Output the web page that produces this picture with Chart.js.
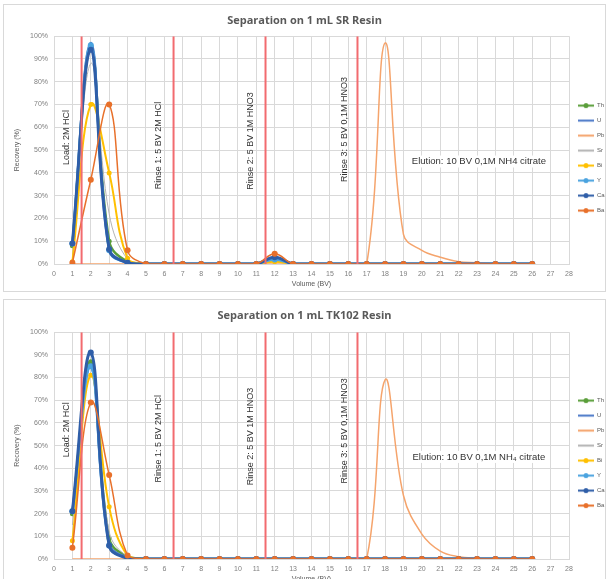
<!DOCTYPE html>
<html>
<head>
<meta charset="utf-8">
<script src="https://cdn.jsdelivr.net/npm/chart.js@4.4.0/dist/chart.umd.min.js"></script>
<style>
  body { margin: 0; background: #fff; width: 610px; height: 579px; overflow: hidden; position: relative; }
  .box { position: absolute; left: 3px; width: 601px; height: 286px; border: 1px solid #d9d9d9; background: #fff; }
  #boxSR { top: 4px; }
  #boxTK { top: 299px; }
  canvas { display: block; }
</style>
</head>
<body>
<div class="box" id="boxSR"><canvas id="chartSR" width="601" height="286"></canvas></div>
<div class="box" id="boxTK"><canvas id="chartTK" width="601" height="286"></canvas></div>
<script>
// volume fractions (BV)
const volumes = [1, 2, 3, 4, 5, 6, 7, 8, 9, 10, 11, 12, 13, 14, 15, 16, 17, 18, 19, 20, 21, 22, 23, 24, 25, 26];
const elements = ['Th', 'U', 'Pb', 'Sr', 'Bi', 'Y', 'Ca', 'Ba'];

// recovery (%) on SR resin
const srTh = [8, 95, 10, 1, 0, 0, 0, 0, 0, 0, 0, 2.5, 0, 0, 0, 0, 0, 0, 0, 0, 0, 0, 0, 0, 0, 0];
const srU  = [8, 97, 7, 0.5, 0, 0, 0, 0, 0, 0, 0, 3, 0, 0, 0, 0, 0, 0, 0, 0, 0, 0, 0, 0, 0, 0];
const srPb = [0, 0, 0, 0, 0, 0, 0, 0, 0, 0, 0, 0, 0, 0, 0, 0, 0, 97, 13, 6, 3, 1, 0.5, 0, 0, 0];
const srSr = [3, 88, 22, 2, 0, 0, 0, 0, 0, 0, 0, 1.5, 0, 0, 0, 0, 0, 0, 0, 0, 0, 0, 0, 0, 0, 0];
const srBi = [1, 70, 40, 2.5, 0, 0, 0, 0, 0, 0, 0, 1, 0, 0, 0, 0, 0, 0, 0, 0, 0, 0, 0, 0, 0, 0];
const srY  = [9, 96, 6, 0.5, 0, 0, 0, 0, 0, 0, 0, 2, 0, 0, 0, 0, 0, 0, 0, 0, 0, 0, 0, 0, 0, 0];
const srCa = [9, 94, 6.5, 0.5, 0, 0, 0, 0, 0, 0, 0, 3, 0, 0, 0, 0, 0, 0, 0, 0, 0, 0, 0, 0, 0, 0];
const srBa = [0.5, 37, 70, 6, 0, 0, 0, 0, 0, 0, 0, 4.5, 0, 0, 0, 0, 0, 0, 0, 0, 0, 0, 0, 0, 0, 0];

// recovery (%) on TK102 resin
const tkTh = [20, 87, 9, 1, 0, 0, 0, 0, 0, 0, 0, 0, 0, 0, 0, 0, 0, 0, 0, 0, 0, 0, 0, 0, 0, 0];
const tkU  = [20, 85, 7, 0.5, 0, 0, 0, 0, 0, 0, 0, 0, 0, 0, 0, 0, 0, 0, 0, 0, 0, 0, 0, 0, 0, 0];
const tkPb = [0, 0, 0, 0, 0, 0, 0, 0, 0, 0, 0, 0, 0, 0, 0, 0, 0, 79, 28, 11, 3.5, 1, 0.3, 0, 0, 0];
const tkSr = [15, 82, 12, 1, 0, 0, 0, 0, 0, 0, 0, 0, 0, 0, 0, 0, 0, 0, 0, 0, 0, 0, 0, 0, 0, 0];
const tkBi = [8, 81, 23, 1.5, 0, 0, 0, 0, 0, 0, 0, 0, 0, 0, 0, 0, 0, 0, 0, 0, 0, 0, 0, 0, 0, 0];
const tkY  = [21, 85, 6, 0.5, 0, 0, 0, 0, 0, 0, 0, 0, 0, 0, 0, 0, 0, 0, 0, 0, 0, 0, 0, 0, 0, 0];
const tkCa = [21, 91, 6, 0.3, 0, 0, 0, 0, 0, 0, 0, 0, 0, 0, 0, 0, 0, 0, 0, 0, 0, 0, 0, 0, 0, 0];
const tkBa = [5, 69, 37, 1.5, 0, 0, 0, 0, 0, 0, 0, 0, 0, 0, 0, 0, 0, 0, 0, 0, 0, 0, 0, 0, 0, 0];

// step boundaries (BV) and their labels
const stepBounds = [1.5, 6.5, 11.5, 16.5];
const stepNames = ['Load: 2M HCl', 'Rinse 1: 5 BV 2M HCl', 'Rinse 2: 5 BV 1M HNO3', 'Rinse 3: 5 BV 0,1M HNO3'];
const elutionSR = 'Elution: 10 BV 0,1M NH4 citrate';
const elutionTK = 'Elution: 10 BV 0,1M NH\u2084 citrate';

// styles
const colors = ['#5a9e3a', '#4a78c8', '#f5a46c', '#b4b4b4', '#ffc000', '#4aa3df', '#2f5ea8', '#e8702a'];
const widths = [2.5, 2.5, 1.5, 1, 2, 2.5, 3, 1.5];
const radii = [2.5, 0, 0, 0, 2.5, 3, 3, 3];

function legendIcon(color, r) {
  const c = document.createElement('canvas');
  c.width = 16; c.height = 7;
  const g = c.getContext('2d');
  g.strokeStyle = color; g.lineWidth = 2;
  g.beginPath(); g.moveTo(0, 3.5); g.lineTo(16, 3.5); g.stroke();
  if (r > 0) { g.fillStyle = color; g.beginPath(); g.arc(8, 3.5, 2.5, 0, Math.PI * 2); g.fill(); }
  return c;
}
const icons = colors.map((c, i) => legendIcon(c, radii[i]));

const textPlugin = {
  id: 'stepText',
  afterDatasetsDraw(chart, args, opts) {
    const { ctx, scales: { x, y } } = chart;
    ctx.save();
    ctx.fillStyle = '#333';
    ctx.font = '9px "Liberation Sans", Arial, sans-serif';
    ctx.textAlign = 'center';
    ctx.textBaseline = 'middle';
    stepNames.forEach((t, i) => {
      ctx.save();
      ctx.translate(x.getPixelForValue(opts.labelX[i]), y.getPixelForValue(opts.labelY[i]));
      ctx.rotate(-Math.PI / 2);
      ctx.fillText(t, 0, 0);
      ctx.restore();
    });
    ctx.font = '9.5px "Liberation Sans", Arial, sans-serif';
    const ex = x.getPixelForValue(opts.elutionX), ey = y.getPixelForValue(opts.elutionY);
    const w = ctx.measureText(opts.elution).width;
    ctx.fillStyle = '#fff';
    ctx.fillRect(ex - w / 2 - 2, ey - 6, w + 4, 12);
    ctx.fillStyle = '#333';
    ctx.fillText(opts.elution, ex, ey);
    ctx.restore();
  }
};

function makeChart(id, title, series, elution, titlePad, labelY) {
  const datasets = series.map((s, i) => ({
    label: elements[i],
    data: volumes.map((v, k) => ({ x: v, y: s[k] })),
    borderColor: colors[i],
    backgroundColor: colors[i],
    borderWidth: widths[i],
    pointRadius: radii[i],
    pointBorderWidth: 0,
    tension: 0.4,
    order: series.length - i + 1
  }));
  stepBounds.forEach(b => datasets.push({
    label: '',
    data: [{ x: b, y: 0 }, { x: b, y: 100 }],
    borderColor: '#f26b6f',
    borderWidth: 2,
    pointRadius: 0,
    order: 0
  }));

  return new Chart(document.getElementById(id), {
    type: 'line',
    data: { datasets },
    plugins: [textPlugin],
    options: {
      responsive: false,
      animation: false,
      layout: { padding: 0 },
      scales: {
        x: {
          type: 'linear', min: 0, max: 28,
          ticks: { stepSize: 1, padding: 6, color: '#808080', font: { size: 7 } },
          grid: { color: '#d9d9d9', drawTicks: false },
          border: { color: '#d9d9d9' },
          title: { display: true, text: 'Volume (BV)', color: '#595959', font: { size: 7 }, padding: { top: 0, bottom: 3 } },
          afterFit(scale) { scale.height = 27; }
        },
        y: {
          min: 0, max: 100,
          ticks: { stepSize: 10, padding: 6, color: '#808080', font: { size: 7 }, callback: v => v + '%' },
          grid: { color: '#d9d9d9', drawTicks: false },
          border: { display: false },
          title: { display: true, text: 'Recovery (%)', color: '#595959', font: { size: 7 }, padding: { top: 9, bottom: 0 } },
          afterFit(scale) { scale.width = 50; }
        }
      },
      plugins: {
        title: {
          display: true, text: title, color: '#595959',
          font: { size: 11, weight: 'bold', family: '"Open Sans", sans-serif' },
          padding: titlePad
        },
        legend: {
          position: 'right',
          maxWidth: 36,
          title: { display: true, text: ' ', font: { size: 6 }, padding: { top: 13, bottom: 0 } },
          labels: {
            usePointStyle: true, pointStyleWidth: 16, padding: 9,
            color: '#595959', font: { size: 6 },
            generateLabels: chart => chart.data.datasets.slice(0, elements.length).map((ds, i) => ({
              text: ds.label, pointStyle: icons[i], fillStyle: colors[i], strokeStyle: colors[i],
              lineWidth: 0, hidden: false, datasetIndex: i, fontColor: '#595959'
            }))
          }
        },
        tooltip: { enabled: false },
        stepText: {
          labelX: [0.7, 5.7, 10.7, 15.8],
          labelY,
          elution,
          elutionX: 23.1,
          elutionY: 45
        }
      }
    }
  });
}

makeChart('chartSR', 'Separation on 1 mL SR Resin',
  [srTh, srU, srPb, srSr, srBi, srY, srCa, srBa], elutionSR, { top: 9, bottom: 9 }, [55.5, 52, 54, 59]);
makeChart('chartTK', 'Separation on 1 mL TK102 Resin',
  [tkTh, tkU, tkPb, tkSr, tkBi, tkY, tkCa, tkBa], elutionTK, { top: 9, bottom: 10 }, [57, 53, 54, 56.5]);
</script>
</body>
</html>
